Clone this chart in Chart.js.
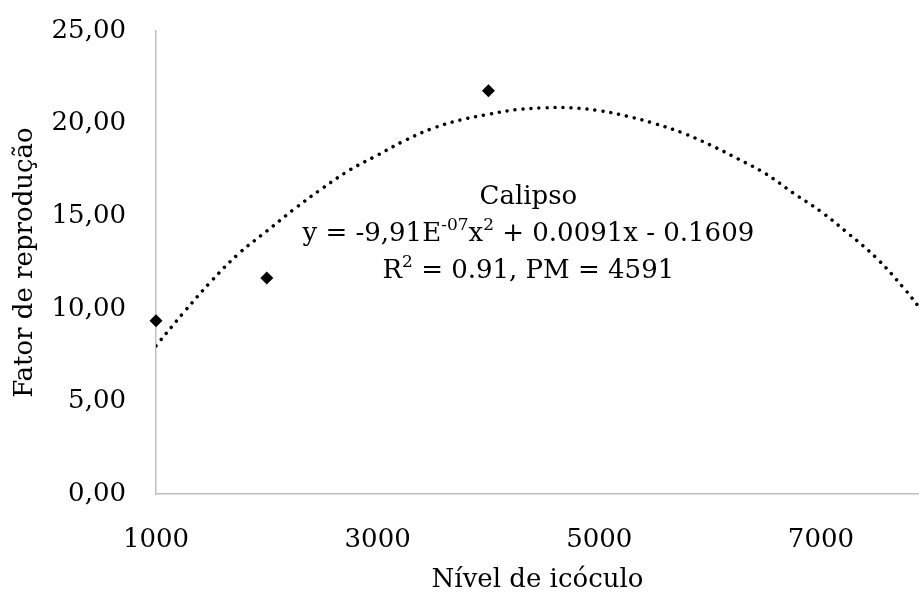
<!DOCTYPE html>
<html>
<head>
<meta charset="utf-8">
<script src="https://cdn.jsdelivr.net/npm/chart.js@4.4.1/dist/chart.umd.min.js"></script>
<style>
  html, body { margin: 0; padding: 0; background: #fff; }
  #wrap { width: 919px; height: 594px; }
</style>
</head>
<body>
<div id="wrap"><canvas id="fatorChart"></canvas></div>
<script>
// dados
const niveis = [1000, 2000, 4000];
const fator = [9.35, 11.66, 21.78];

// linha de tendência
const trendX = [1000, 1250, 1500, 1750, 2000, 2250, 2500, 2750, 3000, 3250, 3500, 3750, 4000,
  4250, 4500, 4750, 5000, 5250, 5500, 5750, 6000, 6250, 6500, 6750, 7000, 7250, 7500, 7750, 7885];
const trendY = [8.0, 9.8, 11.5, 13.0, 14.2, 15.4, 16.5, 17.5, 18.3, 19.1, 19.75, 20.2, 20.5,
  20.75, 20.85, 20.85, 20.7, 20.4, 20.0, 19.5, 18.85, 18.1, 17.3, 16.25, 15.25, 14.05, 12.75, 11.1, 10.1];

const xTicks = [1000, 3000, 5000, 7000];
const yTicks = [0, 5, 10, 15, 20, 25];

const FONT = "'DejaVu Serif', 'Liberation Serif', serif";

// texto da equação no meio do gráfico
const eqLabel = {
  id: 'eqLabel',
  afterDraw(chart) {
    const ctx = chart.ctx;
    const cx = chart.scales.x.getPixelForValue(4360);
    const cy = chart.scales.y.getPixelForValue(16);
    const lines = [
      [{ t: 'Calipso' }],
      [{ t: 'y = -9,91E' }, { t: '-07', sup: true }, { t: 'x' }, { t: '2', sup: true }, { t: ' + 0.0091x - 0.1609' }],
      [{ t: 'R' }, { t: '2', sup: true }, { t: ' = 0.91, PM = 4591' }]
    ];
    ctx.save();
    ctx.fillStyle = '#000';
    ctx.textBaseline = 'middle';
    ctx.textAlign = 'left';
    lines.forEach((segs, i) => {
      const y = cy + i * 37;
      let total = 0;
      segs.forEach(s => {
        ctx.font = (s.sup ? '17px ' : '26px ') + FONT;
        s.w = ctx.measureText(s.t).width;
        total += s.w;
      });
      let x = cx - total / 2;
      segs.forEach(s => {
        ctx.font = (s.sup ? '17px ' : '26px ') + FONT;
        ctx.fillText(s.t, x, s.sup ? y - 9 : y);
        x += s.w;
      });
    });
    ctx.restore();
  }
};

const ctx = document.getElementById('fatorChart').getContext('2d');
new Chart(ctx, {
  type: 'scatter',
  data: {
    datasets: [
      {
        label: 'Tendência',
        data: trendX.map((x, i) => ({ x: x, y: trendY[i] })),
        showLine: true,
        borderColor: '#000',
        borderWidth: 3.5,
        borderDash: [0.01, 8],
        borderCapStyle: 'round',
        tension: 0.4,
        pointRadius: 0,
        pointHoverRadius: 0
      },
      {
        label: 'Calipso',
        data: niveis.map((x, i) => ({ x: x, y: fator[i] })),
        pointStyle: 'rectRot',
        pointRadius: 6.5,
        backgroundColor: '#000',
        borderColor: '#000',
        borderWidth: 0,
        clip: false
      }
    ]
  },
  options: {
    responsive: true,
    maintainAspectRatio: false,
    animation: false,
    layout: { autoPadding: false, padding: { top: 31, right: 0, left: 0, bottom: 0 } },
    plugins: {
      legend: { display: false },
      tooltip: { enabled: false }
    },
    scales: {
      x: {
        type: 'linear',
        min: 1000,
        max: 7885,
        afterBuildTicks: (s) => { s.ticks = xTicks.map(v => ({ value: v })); },
        afterFit: (s) => { s.height = 100; s.paddingLeft = 0; s.paddingRight = 0; },
        grid: { display: false, drawTicks: false },
        border: { display: true, color: '#bfbfbf', width: 1.5 },
        ticks: {
          color: '#000',
          padding: 31,
          font: { family: FONT, size: 26 },
          maxRotation: 0,
          callback: (v) => String(v)
        },
        title: {
          display: true,
          text: 'Nível de icóculo',
          color: '#000',
          font: { family: FONT, size: 26, lineHeight: 1 },
          padding: { top: 0, bottom: 1 }
        }
      },
      y: {
        min: 0,
        max: 25,
        afterBuildTicks: (s) => { s.ticks = yTicks.map(v => ({ value: v })); },
        afterFit: (s) => { s.width = 156; s.paddingTop = 14; s.paddingBottom = 0; },
        grid: { display: false, drawTicks: false },
        border: { display: true, color: '#bfbfbf', width: 1.5 },
        ticks: {
          color: '#000',
          padding: 30,
          font: { family: FONT, size: 26 },
          callback: (v) => v.toFixed(2).replace('.', ',')
        },
        title: {
          display: true,
          text: 'Fator de reprodução',
          color: '#000',
          font: { family: FONT, size: 26, lineHeight: 1 },
          padding: { top: 12, bottom: 0 }
        }
      }
    }
  },
  plugins: [eqLabel]
});
</script>
</body>
</html>
